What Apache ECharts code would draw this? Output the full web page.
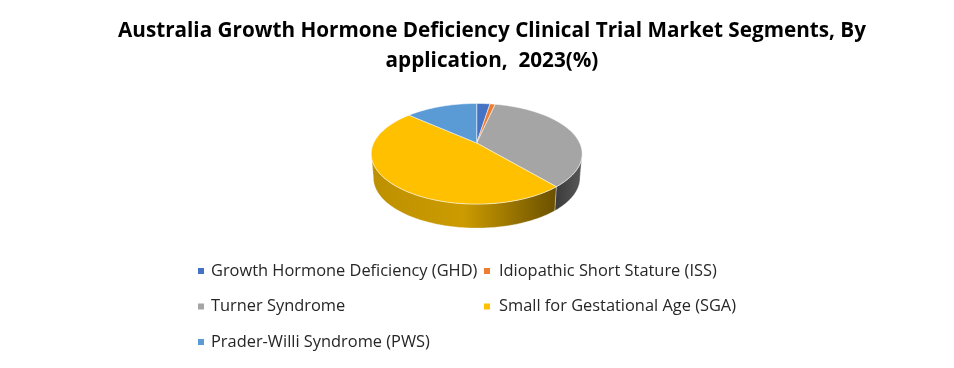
<!DOCTYPE html>
<html>
<head>
<meta charset="utf-8">
<style>
  html, body { margin: 0; padding: 0; background: #fff; }
  #chart { width: 954px; height: 368px; }
</style>
<script src="https://cdn.jsdelivr.net/npm/echarts@6/dist/echarts.min.js"></script>
</head>
<body>
<div id="chart"></div>
<script>
const categories = [
  "Growth Hormone Deficiency (GHD)",
  "Idiopathic Short Stature (ISS)",
  "Turner Syndrome",
  "Small for Gestational Age (SGA)",
  "Prader-Willi Syndrome (PWS)"
];
const shares = [2.5, 1.0, 35.3, 47.7, 13.5];
const colors = ["#4472c4", "#ed7d31", "#a5a5a5", "#ffc000", "#5b9bd5"];
// 侧面渐变色，只有朝前的两块看得见
const wallStops = [
  null,
  null,
  ["#3c3c3c", "#585858"],
  ["#bd9000", "#cc9b00", "#6a5000"],
  null
];

const total = shares.reduce((a, b) => a + b, 0);
const cx = 476.7, apexY = 143;
const a = 103, b = 48, k = 0.214; // 透视参数
const depth = 24, bottomScale = 0.98;
const wallFrom = 102, wallTo = 258; // 可见侧面的角度范围
const rimLeft = 371, rimRight = 582;

function rimPoint(deg, low) {
  const t = deg * Math.PI / 180;
  const w = 1 + k * Math.cos(t);
  const x = a * Math.sin(t) / w;
  const y = -b * Math.cos(t) / w;
  return low
    ? [cx + x * bottomScale, apexY + y + depth]
    : [cx + x, apexY + y];
}

function rimPath(from, to, low) {
  const pts = [];
  const n = Math.max(2, Math.ceil(to - from));
  for (let i = 0; i <= n; i++) pts.push(rimPoint(from + (to - from) * i / n, low));
  return pts;
}

function sliceRange(idx) {
  const before = shares.slice(0, idx).reduce((s, v) => s + v, 0);
  return [before / total * 360, (before + shares[idx]) / total * 360];
}

function renderSlice(idx) {
  return function () {
    const [from, to] = sliceRange(idx);
    const children = [];
    const wf = Math.max(from, wallFrom), wt = Math.min(to, wallTo);
    if (wallStops[idx] && wt > wf) {
      const stops = wallStops[idx].map((c, i, arr) => ({ offset: i / (arr.length - 1), color: c }));
      const gx0 = idx === 3 ? rimLeft : rimPoint(wt, false)[0];
      const gx1 = idx === 3 ? rimPoint(wf, false)[0] : rimRight;
      children.push({
        type: "polygon",
        shape: { points: rimPath(wf, wt, false).concat(rimPath(wf, wt, true).reverse()) },
        style: {
          fill: new echarts.graphic.LinearGradient(gx0, 0, gx1, 0, stops, true),
          stroke: "rgba(255,255,255,0.55)",
          lineWidth: 0.6
        }
      });
    }
    children.push({
      type: "polygon",
      shape: { points: [[cx, apexY]].concat(rimPath(from, to, false)) },
      style: { fill: colors[idx], stroke: "rgba(255,255,255,0.75)", lineWidth: 0.7 }
    });
    return { type: "group", children: children };
  };
}

const legendText = { color: "#262626", fontSize: 16.4, fontFamily: "Open Sans", lineHeight: 22 };

const chart = echarts.init(document.getElementById("chart"), null, { renderer: "canvas" });
chart.setOption({
  backgroundColor: "#fff",
  animation: false,
  title: {
    text: "Australia Growth Hormone Deficiency Clinical Trial Market Segments, By\napplication,  2023(%)",
    left: 487,
    top: 11,
    textAlign: "center",
    textStyle: {
      color: "#000",
      fontFamily: "Open Sans",
      fontWeight: "bold",
      fontSize: 20.7,
      lineHeight: 30
    }
  },
  legend: [
    {
      left: 193,
      top: 255,
      orient: "vertical",
      icon: "rect",
      itemWidth: 6,
      itemHeight: 6,
      itemGap: 13.5,
      selectedMode: false,
      textStyle: Object.assign({ padding: [0, 0, 0, 2] }, legendText),
      data: [categories[0], categories[2], categories[4]]
    },
    {
      left: 479,
      top: 255,
      orient: "vertical",
      icon: "rect",
      itemWidth: 6,
      itemHeight: 6,
      itemGap: 13.5,
      selectedMode: false,
      textStyle: Object.assign({ padding: [0, 0, 0, 4] }, legendText),
      data: [categories[1], categories[3]]
    }
  ],
  series: categories.map((name, i) => ({
    type: "custom",
    name: name,
    coordinateSystem: "none",
    silent: true,
    itemStyle: { color: colors[i] },
    renderItem: renderSlice(i),
    data: [[shares[i]]]
  }))
});
</script>
</body>
</html>
